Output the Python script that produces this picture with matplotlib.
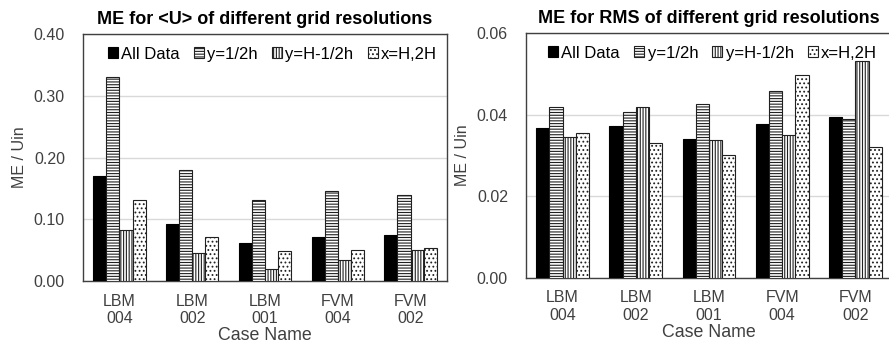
import numpy as np
import matplotlib.pyplot as plt

plt.rcParams['font.family'] = ['Liberation Sans', 'DejaVu Sans']
plt.rcParams['hatch.linewidth'] = 0.8

cases = ['LBM\n004', 'LBM\n002', 'LBM\n001', 'FVM\n004', 'FVM\n002']
series = ['All Data', 'y=1/2h', 'y=H-1/2h', 'x=H,2H']

# ME for <U>
u_all = [0.170, 0.093, 0.0615, 0.071, 0.0745]
u_low = [0.330, 0.179, 0.131, 0.146, 0.140]
u_top = [0.0826, 0.045, 0.0194, 0.034, 0.0507]
u_x = [0.131, 0.071, 0.0486, 0.0507, 0.053]

# ME for RMS
r_all = [0.0368, 0.0373, 0.0340, 0.0376, 0.0395]
r_low = [0.0419, 0.0406, 0.0426, 0.0459, 0.0390]
r_top = [0.0346, 0.0419, 0.0337, 0.0351, 0.0532]
r_x = [0.0355, 0.0330, 0.0301, 0.0497, 0.0320]

styles = [dict(color='black', edgecolor='black'),
          dict(color='white', edgecolor='#202020', hatch='------'),
          dict(color='white', edgecolor='#202020', hatch='||||||'),
          dict(color='white', edgecolor='#202020', hatch='....')]

W, H = 889, 347
fig = plt.figure(figsize=(W / 100, H / 100), dpi=100)


def draw(ax, data, ymax, step, title, fmt, lx):
    x = np.arange(len(cases))
    bw = 0.18
    for k, (vals, st) in enumerate(zip(data, styles)):
        ax.bar(x + (k - 1.5) * bw, vals, bw, label=series[k], linewidth=0.8, zorder=3, **st)
    ax.set_xlim(-0.5, len(cases) - 0.5)
    ax.set_ylim(0, ymax)
    ticks = np.arange(0, ymax + step / 2, step)
    ax.set_yticks(ticks)
    ax.set_yticklabels([fmt.format(v) for v in ticks])
    ax.set_xticks(x)
    ax.set_xticklabels(cases, fontsize=11.5, color='#404040', linespacing=1.2)
    ax.tick_params(axis='both', length=0)
    ax.tick_params(axis='y', labelsize=11.5, pad=13, labelcolor='#404040')
    ax.tick_params(axis='x', pad=9)
    ax.yaxis.grid(True, color='#d9d9d9', linewidth=1, zorder=0)
    ax.set_axisbelow(True)
    for s in ax.spines.values():
        s.set_color('#404040')
        s.set_linewidth(1)
    ax.set_ylabel('ME / Uin', fontsize=11.5, labelpad=5, color='#404040')
    ax.set_xlabel('Case Name', fontsize=12.8, labelpad=1, color='#404040')
    ax.set_title(title, fontsize=13, fontweight='bold', pad=7)
    ax.legend(loc='upper center', ncol=4, frameon=False, fontsize=12,
              handlelength=0.6, handleheight=0.6, handletextpad=0.2,
              columnspacing=0.85, bbox_to_anchor=(lx, 1.01))


ax1 = fig.add_axes([83 / W, 1 - 281 / H, 364 / W, 247 / H])
draw(ax1, [u_all, u_low, u_top, u_x], 0.40, 0.10, 'ME for <U> of different grid resolutions', '{:.2f}', 0.52)

ax2 = fig.add_axes([526 / W, 1 - 278 / H, 366 / W, 245 / H])
draw(ax2, [r_all, r_low, r_top, r_x], 0.06, 0.02, 'ME for RMS of different grid resolutions', '{:.2f}', 0.51)

fig.savefig('out.png', dpi=100)
